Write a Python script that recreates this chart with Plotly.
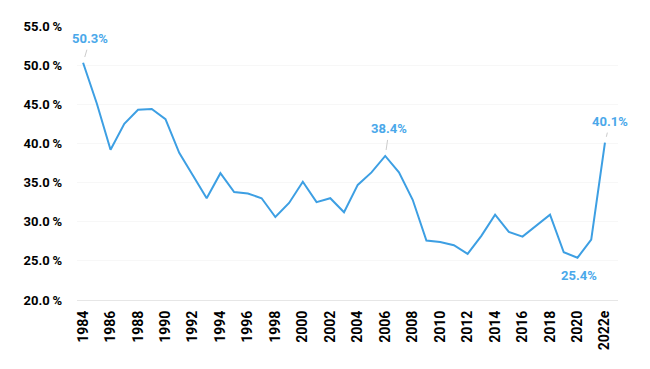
import plotly.graph_objects as go

years = [str(y) for y in range(1984, 2022)] + ["2022e"]
values = [50.3, 45.1, 39.2, 42.5, 44.3, 44.4, 43.1, 38.8, 35.9, 33.0,
          36.2, 33.8, 33.6, 33.0, 30.6, 32.4, 35.1, 32.5, 33.0, 31.2,
          34.7, 36.3, 38.4, 36.3, 32.8, 27.6, 27.4, 27.0, 25.9, 28.2,
          30.9, 28.7, 28.1, 29.5, 30.9, 26.1, 25.4, 27.7, 40.1]
tick_years = years[::2]
y_ticks = [20, 25, 30, 35, 40, 45, 50, 55]
y_tick_text = ["%.1f\u2009%%" % v for v in y_ticks]

# labelled points: (category, text, ax, ay, arrow)
labels = [("1984", "50.3%", 7, -24, True),
          ("2006", "38.4%", 4, -27, True),
          ("2022e", "40.1%", 5, -21, True),
          ("2020", "25.4%", 2, 18, False)]

line_color = "#3d9fe3"
label_color = "#4aa8ea"

fig = go.Figure(go.Scatter(x=list(range(len(years))), y=values, mode="lines",
                           line=dict(color=line_color, width=2),
                           hoverinfo="skip"))

for cat, txt, ax, ay, arr in labels:
    i = years.index(cat)
    if arr:
        fig.add_annotation(x=i, y=values[i], text="<b>%s</b>" % txt, showarrow=True,
                           ax=ax, ay=ay, arrowhead=0, arrowwidth=1,
                           arrowcolor="#cccccc", standoff=6, startstandoff=2,
                           font=dict(family="Roboto", size=13, color=label_color))
    else:
        fig.add_annotation(x=i, y=values[i], text="<b>%s</b>" % txt, showarrow=False,
                           yshift=-ay, xshift=ax,
                           font=dict(family="Roboto", size=13, color=label_color))

fig.update_layout(
    width=642, height=361,
    margin=dict(l=69, r=32, t=18, b=69),
    paper_bgcolor="white", plot_bgcolor="white",
    showlegend=False,
    font=dict(family="Roboto", color="#000000"),
)
fig.update_xaxes(range=[-0.443, 38.95],
                 tickmode="array", tickvals=[years.index(t) for t in tick_years],
                 ticktext=["<b>%s</b>" % t for t in tick_years],
                 tickangle=-90, tickfont=dict(family="Roboto", size=14, color="#000"),
                 showgrid=False, showline=True, linecolor="#e6e6e6", linewidth=1,
                 zeroline=False, ticks="", ticklabelstandoff=4)
fig.update_yaxes(range=[20, 55], tickmode="array", tickvals=y_ticks,
                 ticktext=["<b>%s</b>" % t for t in y_tick_text],
                 tickfont=dict(family="Roboto", size=13, color="#000"),
                 showgrid=True, gridcolor="#f7f7f7", gridwidth=1,
                 zeroline=False, showline=False, ticks="", ticklabelstandoff=14)

fig.write_html("out.html")
